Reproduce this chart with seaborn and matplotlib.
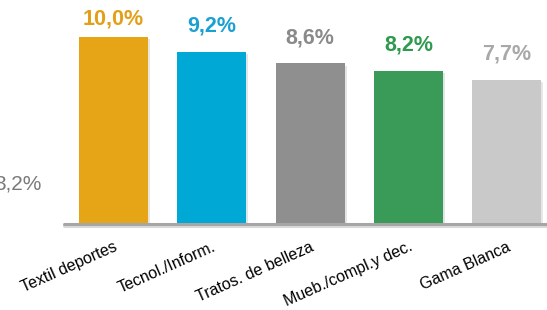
import matplotlib.pyplot as plt
import matplotlib.patheffects as pe
import seaborn as sns
import pandas as pd

# Chart data
categories = ['Textil deportes', 'Tecnol./Inform.', 'Tratos. de belleza',
              'Mueb./compl.y dec.', 'Gama Blanca']
values = [10.0, 9.2, 8.6, 8.2, 7.7]
value_labels = ['10,0%', '9,2%', '8,6%', '8,2%', '7,7%']
cut_label = '3,2%'

# Colours
bar_colors = ['#E5A516', '#00A8D6', '#8F8F8F', '#3A9A57', '#C9C9C9']
text_colors = ['#E29F18', '#1BA0D2', '#8A8A8A', '#2F9A4E', '#A8A8A8']

df = pd.DataFrame({'category': categories, 'value': values})

sns.set_style('white')
plt.rcParams['font.family'] = ['Liberation Sans', 'DejaVu Sans']

fig = plt.figure(figsize=(5.47, 3.10), dpi=100)
ax = fig.add_axes([64 / 547, 1 - 224 / 310, 1 - 64 / 547, 224 / 310])

sns.barplot(data=df, x='category', y='value', hue='category',
            palette=bar_colors, saturation=1, width=0.7, legend=False, ax=ax)

# soft shadow on bars
for patch in ax.patches:
    patch.set_edgecolor('none')
    patch.set_path_effects([pe.SimplePatchShadow(offset=(1.5, -1.5), alpha=0.12),
                            pe.Normal()])

ax.set_xlim(-0.504, 4.41)
ax.set_ylim(0, 12)

# value labels above bars
offsets = [6, 11, 11, 11, 11]
for i, (v, lab) in enumerate(zip(values, value_labels)):
    ax.annotate(lab, (i, v), xytext=(0, offsets[i]), textcoords='offset points',
                ha='center', va='bottom', fontsize=15.5, fontweight='bold',
                color=text_colors[i])

# baseline
ax.axhline(0, color='#A6A6A6', lw=2.2, clip_on=False,
           path_effects=[pe.SimpleLineShadow(offset=(0, -1.5), alpha=0.15), pe.Normal()])

# tick labels
ax.set_xticks(range(len(categories)))
ax.set_xticklabels(categories, rotation=24, ha='right', rotation_mode='anchor',
                   fontsize=11.5, color='black')
ax.tick_params(axis='x', length=0, pad=11)
ax.set_yticks([])
ax.set_xlabel('')
ax.set_ylabel('')
sns.despine(ax=ax, left=True, bottom=True)

# label of a bar that sits outside the cropped view
fig.text(42 / 547, 1 - 190 / 310, cut_label, ha='right', va='baseline',
         fontsize=15, color='#7A7A7A')

fig.savefig('out.png', dpi=100)
